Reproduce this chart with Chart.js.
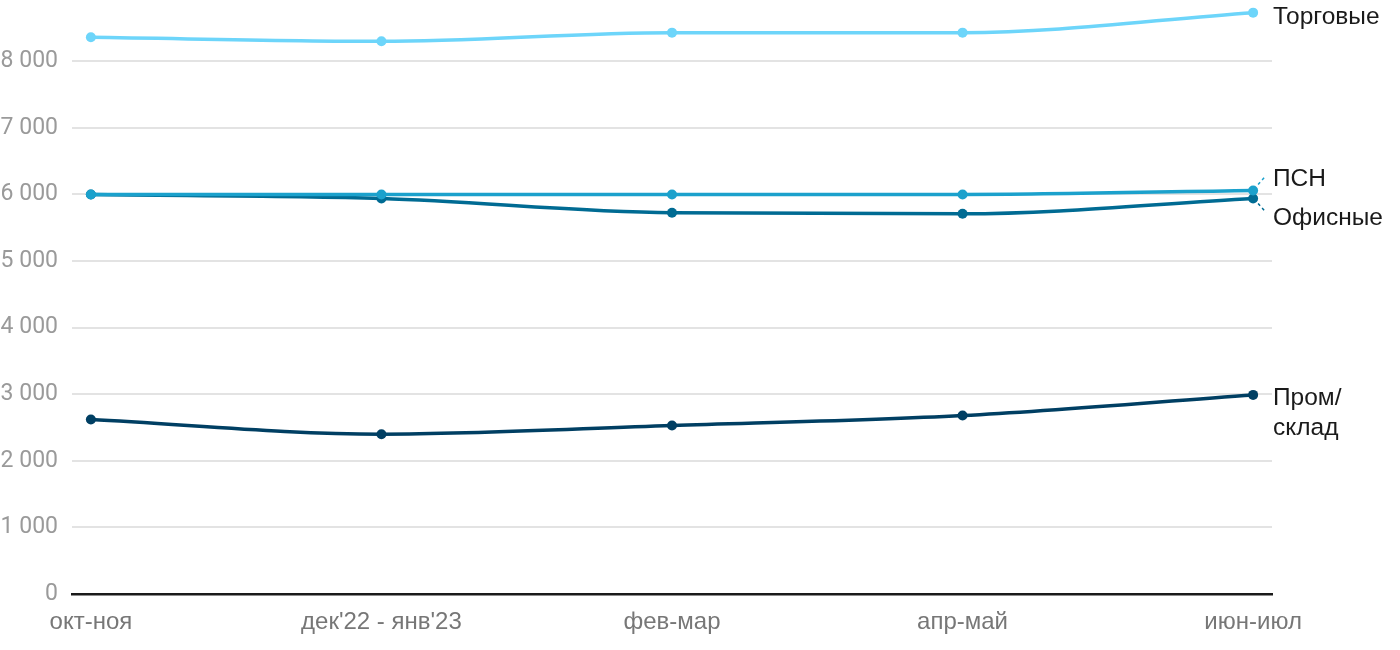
<!DOCTYPE html>
<html>
<head>
<meta charset="utf-8">
<script src="https://cdn.jsdelivr.net/npm/chart.js@4"></script>
<style>
  html, body { margin: 0; padding: 0; background: #fff; }
  #wrap { width: 1400px; height: 650px; position: relative; }
</style>
</head>
<body>
<div id="wrap"><canvas id="c" width="1400" height="650"></canvas></div>
<script>
const categories = ["окт-ноя", "дек'22 - янв'23", "фев-мар", "апр-май", "июн-июл"];
const seriesNames = ["Торговые", "ПСН", "Офисные", "Пром/склад"];
const torgovye = [8360, 8300, 8430, 8430, 8730];
const psn = [6000, 6000, 6000, 6000, 6060];
const ofisnye = [6000, 5940, 5725, 5710, 5940];
const promSklad = [2620, 2400, 2530, 2680, 2990];
const yTicks = [0, 1000, 2000, 3000, 4000, 5000, 6000, 7000, 8000];

// styling (not data)
const colors = ["#6dd5fa", "#1ba1cc", "#006b93", "#003f63"];
const endLabels = [
  { lines: ["Торговые"], dy: 5, leader: null },
  { lines: ["ПСН"], dy: -11, leader: [[5, -6], [13, -15]] },
  { lines: ["Офисные"], dy: 20, leader: [[5, 5], [13, 14]] },
  { lines: ["Пром/", "склад"], dy: 3, leader: null }
];
const allSeries = [torgovye, psn, ofisnye, promSklad];

function fmt(v) {
  return String(v).replace(/\B(?=(\d{3})+(?!\d))/g, " ");
}

const endLabelPlugin = {
  id: "endLabels",
  afterDatasetsDraw(chart) {
    const ctx = chart.ctx;
    ctx.save();
    chart.data.datasets.forEach((ds, i) => {
      const meta = chart.getDatasetMeta(i);
      const pt = meta.data[meta.data.length - 1];
      const cfg = endLabels[i];
      if (cfg.leader) {
        ctx.strokeStyle = colors[i];
        ctx.lineWidth = 1.5;
        ctx.setLineDash([3, 3]);
        ctx.beginPath();
        ctx.moveTo(pt.x + cfg.leader[0][0], pt.y + cfg.leader[0][1]);
        ctx.lineTo(pt.x + cfg.leader[1][0], pt.y + cfg.leader[1][1]);
        ctx.stroke();
        ctx.setLineDash([]);
      }
      ctx.fillStyle = "#1a1a1a";
      ctx.font = "24.5px 'Liberation Sans', Arial, sans-serif";
      ctx.textAlign = "left";
      ctx.textBaseline = "middle";
      cfg.lines.forEach((ln, k) => {
        ctx.fillText(ln, chart.chartArea.right + 1, pt.y + cfg.dy + k * 30);
      });
    });
    ctx.restore();
  }
};

new Chart(document.getElementById("c"), {
  type: "line",
  data: {
    datasets: allSeries.map((arr, i) => ({
      label: seriesNames[i],
      data: arr.map((v, j) => ({ x: j, y: v })),
      borderColor: colors[i],
      backgroundColor: colors[i],
      borderWidth: 3.5,
      pointRadius: 5,
      pointHoverRadius: 5,
      pointBorderWidth: 0,
      cubicInterpolationMode: "monotone",
      clip: false
    }))
  },
  options: {
    responsive: false,
    animation: false,
    layout: { autoPadding: false, padding: { left: 0, right: 128, top: 0, bottom: 0 } },
    plugins: { legend: { display: false }, tooltip: { enabled: false } },
    scales: {
      x: {
        type: "linear",
        min: -0.065,
        max: 4.065,
        afterBuildTicks(axis) { axis.ticks = categories.map((_, j) => ({ value: j })); },
        afterFit(axis) { axis.height = 56; },
        grid: { display: false, drawTicks: false },
        border: { display: true, color: "#1a1a1a", width: 2.5 },
        ticks: {
          autoSkip: false,
          maxRotation: 0,
          padding: 14,
          color: "#777",
          font: { family: "'Liberation Sans', Arial, sans-serif", size: 24 },
          callback: (v) => categories[v]
        }
      },
      y: {
        min: 0,
        max: 8920,
        afterBuildTicks(axis) { axis.ticks = yTicks.map(v => ({ value: v })); },
        afterFit(axis) { axis.width = 72; axis.paddingTop = 0; axis.paddingBottom = 0; },
        grid: { color: "#e3e3e3", lineWidth: 2, drawTicks: false },
        border: { display: false },
        ticks: {
          padding: 14,
          color: "#9a9a9a",
          font: { family: "Roboto, sans-serif", size: 23 },
          callback: (v) => fmt(v)
        }
      }
    }
  },
  plugins: [endLabelPlugin]
});
</script>
</body>
</html>
